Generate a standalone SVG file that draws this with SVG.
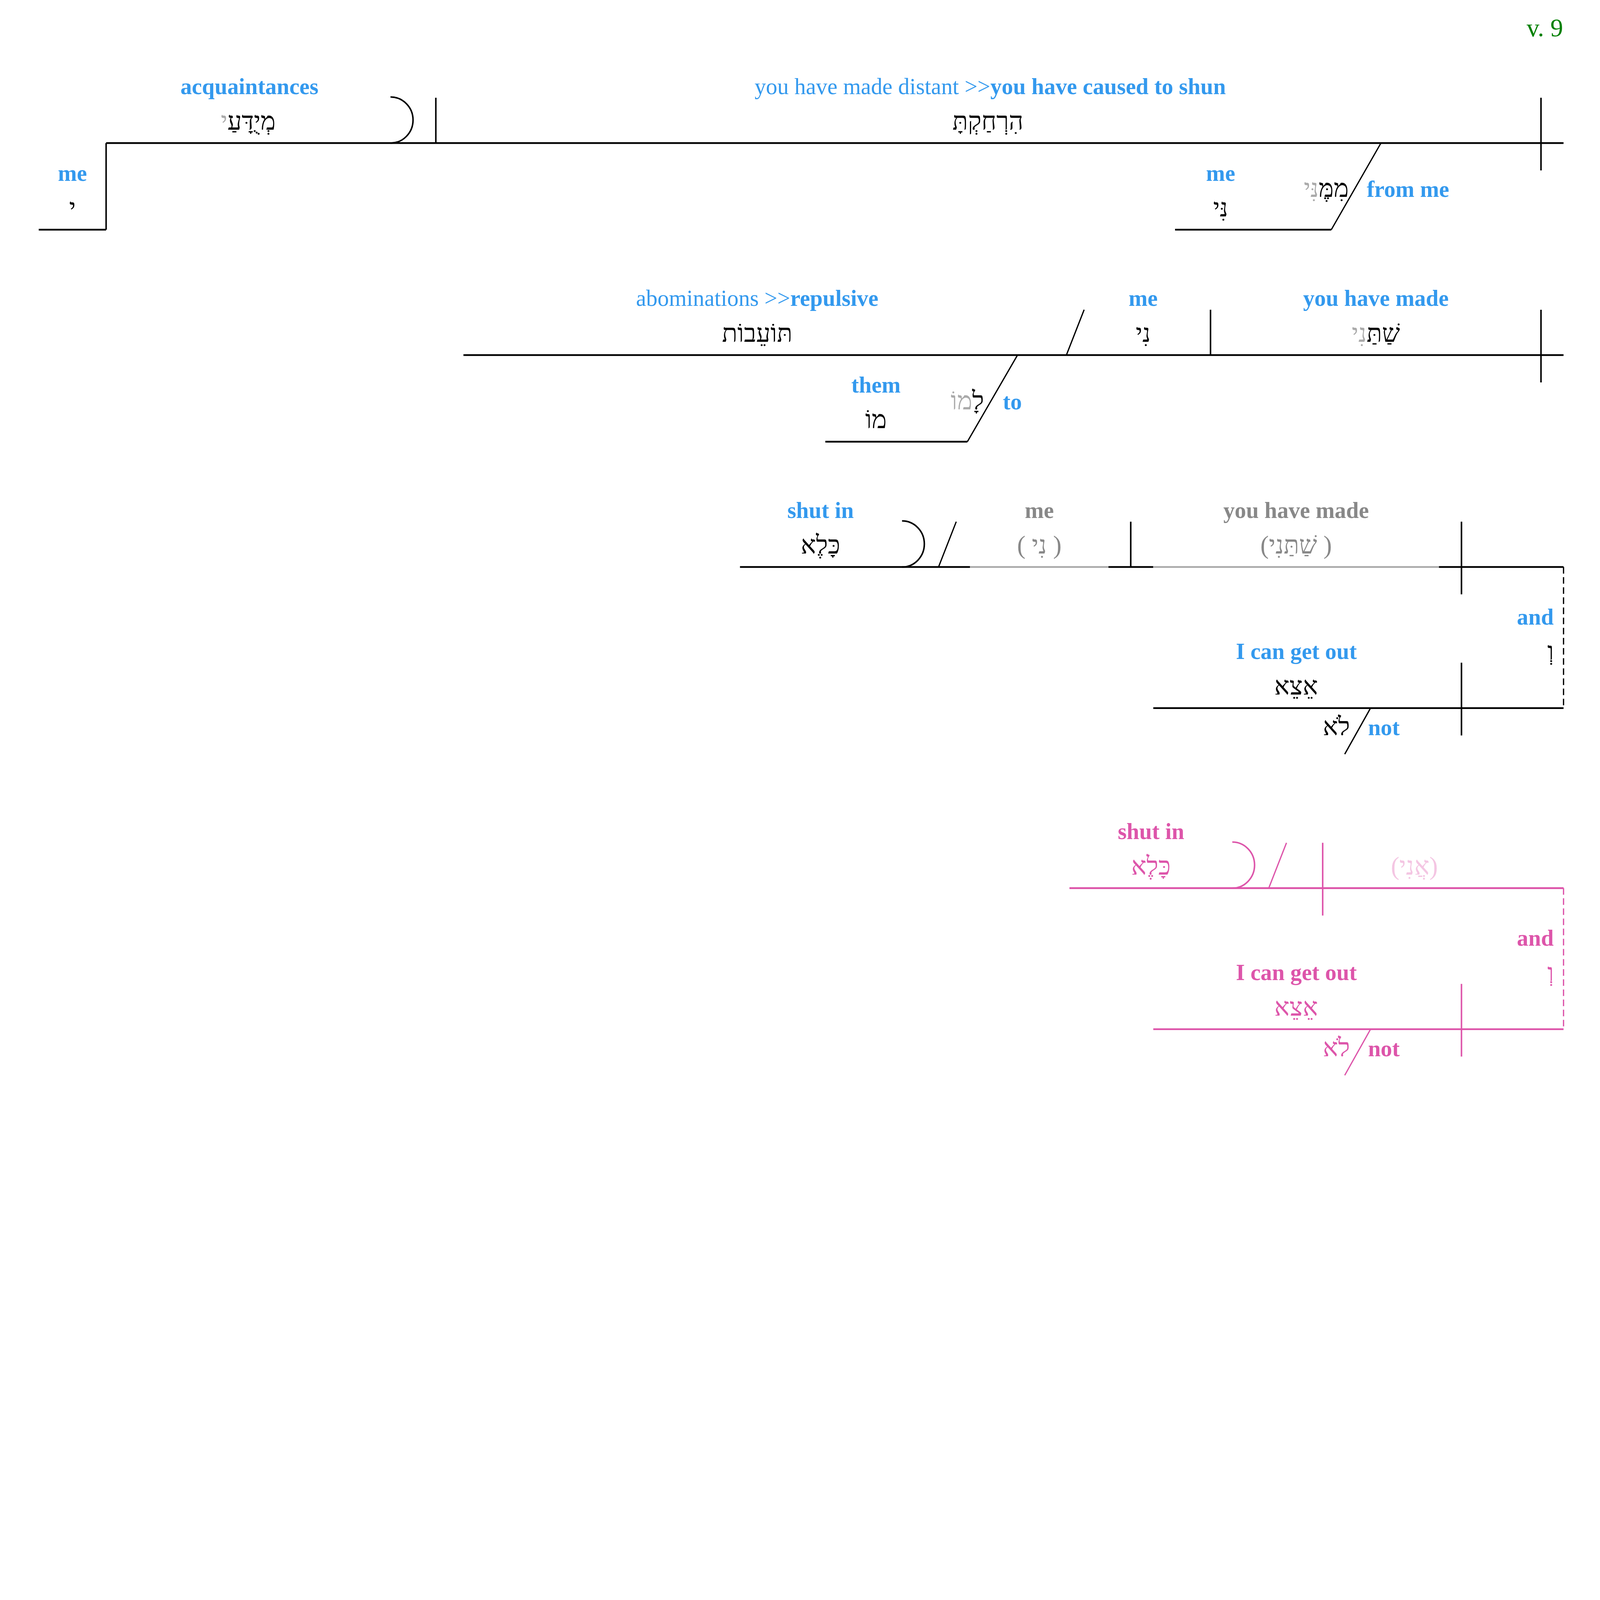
<svg xmlns="http://www.w3.org/2000/svg" width="6318" height="4361" viewBox="0 0 6318 4361" preserveAspectRatio="xMinYMin meet" style="width:100vw;height:100vh;display:block">
<style>
text { font-family: "Liberation Serif", "DejaVu Serif", serif; font-size: 90px; text-anchor: middle; }
.en { font-weight: bold; fill: #3399EE; }
.reg { font-weight: normal; }
.st { text-anchor: start; }
.end { text-anchor: end; }
.he { font-size: 100px; fill: #000000; }
.gr { fill: #AAAAAA; }
.gt { fill: #888888; }
.pk { fill: #DD55AA; }
.lp { fill: #F4C6E3; }
.ln { stroke: #000000; stroke-width: 7; fill: none; }
.v { stroke: #000000; stroke-width: 6; fill: none; }
.sl { stroke: #000000; stroke-width: 5; fill: none; }
.arc { stroke: #000000; stroke-width: 6; fill: none; }
.gl { stroke: #AAAAAA; }
.pl { stroke: #DD55AA; }
.dash { stroke-dasharray: 26 14; stroke-width: 5; }
</style>
<rect x="0" y="0" width="6318" height="4361" fill="#FFFFFF"/>
<text id="verse" x="6172" y="143" class="end" style="font-size:100px;fill:#008000">v. 9</text>
<g id="connectors">
<path class="ln" d="M419,565 H6174"/>
<path class="v" d="M419,565 V907"/>
<path class="ln" d="M153,907 H419"/>
<path class="arc" d="M1542,383 A89,91 0 0 1 1542,565"/>
<path class="v" d="M1721,386 V565"/>
<path class="v" d="M6085,386 V673"/>
<path class="sl" d="M5453,565 L5257,907"/>
<path class="ln" d="M4640,907 H5257"/>
<path class="ln" d="M1830,1402 H6174"/>
<path class="sl" d="M4211,1402 L4281,1223"/>
<path class="v" d="M4780,1223 V1402"/>
<path class="v" d="M6085,1223 V1510"/>
<path class="sl" d="M4018,1402 L3820,1744"/>
<path class="ln" d="M3259,1744 H3820"/>
<path class="ln" d="M2922,2239 H3830"/>
<path class="ln gl" d="M3830,2239 H4377"/>
<path class="ln" d="M4377,2239 H4554"/>
<path class="ln gl" d="M4554,2239 H5682"/>
<path class="ln" d="M5682,2239 H6174"/>
<path class="arc" d="M3562,2057 A88,91 0 0 1 3562,2239"/>
<path class="sl" d="M3706,2239 L3776,2060"/>
<path class="v" d="M4465,2060 V2239"/>
<path class="v" d="M5771,2060 V2347"/>
<path class="v dash" d="M6174,2239 V2796"/>
<path class="ln" d="M4554,2796 H6174"/>
<path class="v" d="M5771,2617 V2904"/>
<path class="sl" d="M5412,2796 L5310,2978"/>
<path class="ln pl" d="M4223,3507 H6174"/>
<path class="arc pl" d="M4866,3325 A88,91 0 0 1 4866,3507"/>
<path class="sl pl" d="M5010,3507 L5080,3328"/>
<path class="v pl" d="M5223,3328 V3615"/>
<path class="v pl dash" d="M6174,3507 V4064"/>
<path class="ln pl" d="M4554,4064 H6174"/>
<path class="v pl" d="M5771,3885 V4172"/>
<path class="sl pl" d="M5412,4064 L5310,4246"/>
</g>
<g id="n-me1">
<text class="en" x="286" y="714">me</text>
<text class="he" x="286" y="854">י</text>
</g>
<g id="n-acquaintances">
<text class="en" x="985" y="371">acquaintances</text>
<text class="he" x="980" y="512"><tspan>מְיֻדָּעַ</tspan><tspan class="gr">י</tspan></text>
</g>
<g id="n-verb1">
<text class="en" x="3910" y="371"><tspan class="reg">you have made distant &gt;&gt;</tspan>you have caused to shun</text>
<text class="he" x="3901" y="512">הִרְחַקְתָּ</text>
</g>
<g id="n-me2">
<text class="en" x="4820" y="714">me</text>
<text class="he" x="4820" y="854">נִּי</text>
</g>
<g id="n-fromme">
<text class="he" x="5237" y="778"><tspan>מִמֶּ</tspan><tspan class="gr">נִּי</tspan></text>
<text class="en st" x="5397" y="778">from me</text>
</g>
<g id="n-abominations">
<text class="en" x="2990" y="1208"><tspan class="reg">abominations &gt;&gt;</tspan>repulsive</text>
<text class="he" x="2990" y="1349">תּוֹעֵבוֹת</text>
</g>
<g id="n-me3">
<text class="en" x="4514" y="1208">me</text>
<text class="he" x="4514" y="1349">נִי</text>
</g>
<g id="n-verb2">
<text class="en" x="5433" y="1208">you have made</text>
<text class="he" x="5433" y="1349"><tspan>שַׁתַּ</tspan><tspan class="gr">נִי</tspan></text>
</g>
<g id="n-them">
<text class="en" x="3459" y="1550">them</text>
<text class="he" x="3459" y="1691">מוֹ</text>
</g>
<g id="n-to">
<text class="he" x="3820" y="1616"><tspan>לָ</tspan><tspan class="gr">מוֹ</tspan></text>
<text class="en st" x="3960" y="1616">to</text>
</g>
<g id="n-shutin1">
<text class="en" x="3240" y="2045">shut in</text>
<text class="he" x="3240" y="2186">כָּלֶא</text>
</g>
<g id="n-me4">
<text class="en gt" x="4104" y="2045">me</text>
<text class="he gt" x="4104" y="2186">( נִי )</text>
</g>
<g id="n-verb3">
<text class="en gt" x="5118" y="2045">you have made</text>
<text class="he gt" x="5118" y="2186">(שַׁתַּנִי )</text>
</g>
<g id="n-and1">
<text class="en end" x="6135" y="2466">and</text>
<text class="he" x="6123" y="2606">וְ</text>
</g>
<g id="n-getout1">
<text class="en" x="5119" y="2602">I can get out</text>
<text class="he" x="5118" y="2743">אֵצֵא</text>
</g>
<g id="n-not1">
<text class="he" x="5277" y="2903">לֹא</text>
<text class="en st" x="5402" y="2903">not</text>
</g>
<g id="n-shutin2">
<text class="en pk" x="4545" y="3313">shut in</text>
<text class="he pk" x="4545" y="3454">כָּלֶא</text>
</g>
<g id="n-ani">
<text class="he lp" x="5585" y="3454">(אֲנִי)</text>
</g>
<g id="n-and2">
<text class="en pk end" x="6135" y="3734">and</text>
<text class="he pk" x="6123" y="3874">וְ</text>
</g>
<g id="n-getout2">
<text class="en pk" x="5119" y="3870">I can get out</text>
<text class="he pk" x="5118" y="4011">אֵצֵא</text>
</g>
<g id="n-not2">
<text class="he pk" x="5277" y="4171">לֹא</text>
<text class="en pk st" x="5402" y="4171">not</text>
</g>
</svg>
